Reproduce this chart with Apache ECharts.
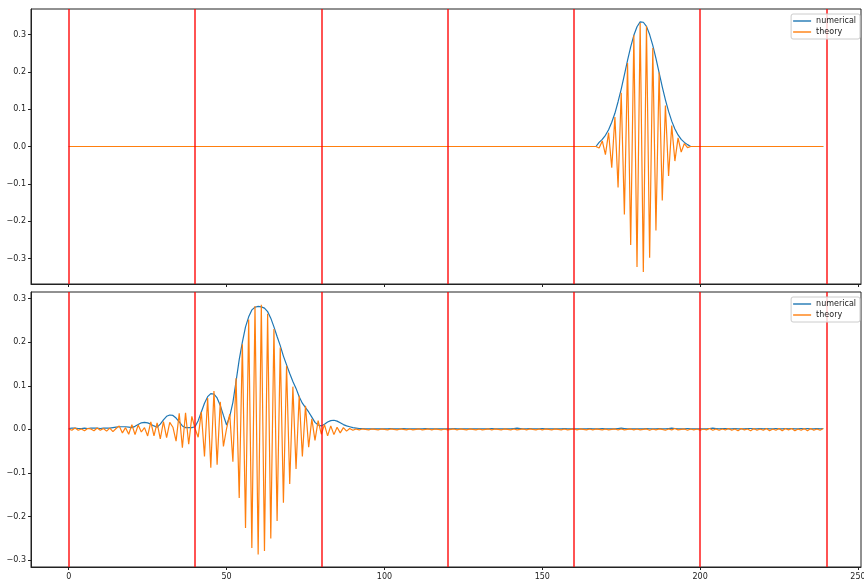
<!DOCTYPE html>
<html>
<head>
<meta charset="utf-8">
<script src="https://cdn.jsdelivr.net/npm/echarts@6/dist/echarts.min.js"></script>
<style>html,body{margin:0;padding:0;background:#fff}#c{width:864px;height:583px}</style>
</head>
<body>
<div id="c"></div>
<script>
// sample positions 0..239
const xValues = [];
for (let i = 0; i < 240; i++) xValues.push(i);

const xTicks = [0, 50, 100, 150, 200, 250];
const yTicks = [-0.3, -0.2, -0.1, 0.0, 0.1, 0.2, 0.3];
const redLines = [0, 40, 80, 120, 160, 200, 240];
const seriesNames = ['numerical', 'theory'];

const topNumerical = [
0,0,0,0,0,0,0,0,0,0,0,0,0,0,0,0,0,0,0,0,
0,0,0,0,0,0,0,0,0,0,0,0,0,0,0,0,0,0,0,0,
0,0,0,0,0,0,0,0,0,0,0,0,0,0,0,0,0,0,0,0,
0,0,0,0,0,0,0,0,0,0,0,0,0,0,0,0,0,0,0,0,
0,0,0,0,0,0,0,0,0,0,0,0,0,0,0,0,0,0,0,0,
0,0,0,0,0,0,0,0,0,0,0,0,0,0,0,0,0,0,0,0,
0,0,0,0,0,0,0,0,0,0,0,0,0,0,0,0,0,0,0,0,
0,0,0,0,0,0,0,0,0,0,0,0,0,0,0,0,0,0,0,0,
0,0,0,0,0,0,0,0,0.011,0.019,0.030,0.045,0.065,0.089,0.120,0.154,0.192,0.231,0.267,0.298,
0.321,0.334,0.333,0.322,0.300,0.271,0.236,0.198,0.160,0.125,0.094,0.068,0.047,0.031,0.019,0.011,0.005,0,0,0,
0,0,0,0,0,0,0,0,0,0,0,0,0,0,0,0,0,0,0,0,
0,0,0,0,0,0,0,0,0,0,0,0,0,0,0,0,0,0,0,0
];

const topTheory = [
0,0,0,0,0,0,0,0,0,0,0,0,0,0,0,0,0,0,0,0,
0,0,0,0,0,0,0,0,0,0,0,0,0,0,0,0,0,0,0,0,
0,0,0,0,0,0,0,0,0,0,0,0,0,0,0,0,0,0,0,0,
0,0,0,0,0,0,0,0,0,0,0,0,0,0,0,0,0,0,0,0,
0,0,0,0,0,0,0,0,0,0,0,0,0,0,0,0,0,0,0,0,
0,0,0,0,0,0,0,0,0,0,0,0,0,0,0,0,0,0,0,0,
0,0,0,0,0,0,0,0,0,0,0,0,0,0,0,0,0,0,0,0,
0,0,0,0,0,0,0,0,0,0,0,0,0,0,0,0,0,0,0,0,
0,0,0,0,0,0,0,0,-0.004,0.015,-0.022,0.037,-0.057,0.079,-0.110,0.144,-0.182,0.224,-0.264,0.298,
-0.323,0.331,-0.336,0.322,-0.298,0.264,-0.225,0.198,-0.145,0.110,-0.079,0.056,-0.039,0.023,-0.015,0.008,-0.003,0,0,0,
0,0,0,0,0,0,0,0,0,0,0,0,0,0,0,0,0,0,0,0,
0,0,0,0,0,0,0,0,0,0,0,0,0,0,0,0,0,0,0,0
];

const bottomNumerical = [
0.002,0.003,0.003,0.002,0.002,0.003,0.002,0.003,0.003,0.003,0.002,0.003,0.003,0.003,0.004,0.005,0.006,0.006,0.006,0.005,
0.004,0.007,0.011,0.015,0.016,0.015,0.012,0.008,0.005,0.012,0.022,0.030,0.033,0.032,0.026,0.017,0.008,0.004,0.004,0.004,
0.006,0.020,0.040,0.060,0.075,0.082,0.081,0.072,0.055,0.032,0.010,0.030,0.062,0.110,0.160,0.200,0.235,0.258,0.274,0.280,
0.282,0.281,0.278,0.270,0.255,0.235,0.213,0.192,0.168,0.148,0.128,0.110,0.094,0.075,0.060,0.050,0.040,0.028,0.016,0.010,
0.008,0.012,0.017,0.020,0.021,0.019,0.015,0.011,0.008,0.006,0.004,0.003,0.002,0.002,0.001,0.001,0.001,0.001,0.001,0.001,
0.001,0.001,0.002,0.001,0.001,0.001,0.002,0.001,0.001,0.001,0.001,0.001,0.001,0.002,0.001,0.001,0.001,0.001,0.001,0.001,
0.001,0.001,0.002,0.001,0.001,0.001,0.001,0.001,0.001,0.001,0.001,0.001,0.001,0.001,0.002,0.001,0.001,0.001,0.001,0.001,
0.001,0.002,0.003,0.002,0.001,0.001,0.002,0.001,0.001,0.001,0.002,0.001,0.001,0.001,0.001,0.001,0.001,0.002,0.001,0.001,
0.001,0.001,0.001,0.001,0.001,0.002,0.001,0.001,0.001,0.002,0.001,0.001,0.001,0.001,0.002,0.003,0.002,0.001,0.001,0.001,
0.001,0.001,0.001,0.002,0.001,0.001,0.001,0.002,0.001,0.001,0.002,0.003,0.002,0.001,0.001,0.001,0.002,0.001,0.001,0.001,
0.001,0.001,0.001,0.002,0.003,0.002,0.001,0.002,0.002,0.001,0.001,0.002,0.001,0.001,0.001,0.002,0.002,0.001,0.001,0.002,
0.001,0.002,0.001,0.001,0.002,0.001,0.001,0.002,0.001,0.002,0.001,0.001,0.002,0.001,0.002,0.001,0.001,0.002,0.001,0.002
];

const bottomTheory = [
0.001,-0.002,0.003,-0.002,0.001,-0.003,0.002,0.001,-0.003,0.003,-0.002,0.002,-0.004,0.003,-0.005,0.002,0.008,-0.008,0.004,-0.011,
0.011,-0.012,0.010,-0.006,0.004,-0.015,0.017,-0.015,0.015,-0.022,0.018,-0.019,0.016,0.005,-0.027,0.037,-0.042,0.038,-0.034,0.030,
0.002,-0.018,0.040,-0.062,0.072,-0.088,0.088,-0.081,0.063,-0.039,0.002,0.035,-0.074,0.117,-0.157,0.195,-0.226,0.252,-0.272,0.283,
-0.287,0.286,-0.279,0.265,-0.250,0.230,-0.210,0.188,-0.168,0.146,-0.125,0.098,-0.091,0.077,-0.062,0.054,-0.041,0.024,-0.025,0.020,
-0.011,0.011,-0.015,0.008,-0.012,0.005,-0.008,0.004,-0.004,0.002,-0.002,0.001,-0.001,0.001,0.000,-0.001,0.001,0.000,-0.001,0.001,
0.000,-0.001,0.001,0.000,-0.001,0.001,0.000,-0.001,0.001,-0.001,0.000,0.001,-0.001,0.000,0.001,-0.001,0.001,0.000,-0.001,0.001,
-0.001,0.000,0.001,-0.001,0.001,0.000,-0.001,0.001,0.000,-0.001,0.001,-0.001,0.000,0.001,-0.001,0.001,0.000,-0.001,0.001,0.000,
-0.001,0.001,-0.001,0.000,0.001,-0.001,0.001,0.000,-0.001,0.001,-0.001,0.001,0.000,-0.001,0.001,0.000,-0.001,0.001,-0.001,0.000,
0.001,-0.001,0.001,0.000,-0.001,0.001,-0.001,0.001,0.000,-0.001,0.001,-0.001,0.000,0.001,-0.001,0.001,-0.001,0.000,0.001,-0.001,
0.001,-0.001,0.000,0.001,-0.002,0.001,-0.001,0.001,0.000,-0.002,0.001,-0.001,0.002,-0.001,0.000,0.001,-0.002,0.001,-0.001,0.001,
-0.002,0.001,-0.001,0.002,-0.002,0.001,-0.002,0.001,-0.001,0.002,-0.002,0.001,-0.003,0.002,-0.001,0.001,-0.003,0.002,-0.002,0.001,
-0.002,0.002,-0.003,0.001,-0.002,0.002,-0.003,0.002,-0.001,0.002,-0.003,0.001,-0.002,0.002,-0.003,0.002,-0.002,0.001,-0.002,0.002
];

const C_NUM = '#1f77b4', C_THEO = '#ff7f0e';
const FONT = 'DejaVu Sans';

function pairs(ys) { return xValues.map((x, i) => [x, ys[i]]); }
function yFmt(v) {
  const s = Math.abs(v).toFixed(1);
  return (v < -1e-9 ? '\u2212' : '') + s;
}

const grids = [
  { left: 31, right: 3, top: 9, height: 275 },
  { left: 31, right: 3, top: 292, height: 275 }
];
const yRanges = [[-0.3685, 0.3685], [-0.3155, 0.315]];

const option = {
  animation: false,
  backgroundColor: '#fff',
  grid: grids.map(g => Object.assign({
    show: true, borderColor: '#222', borderWidth: 1, backgroundColor: 'transparent',
    containLabel: false, outerBoundsMode: 'none'
  }, g)),
  xAxis: [0, 1].map(i => ({
    type: 'value', gridIndex: i, min: -11.95, max: 250.95,
    splitLine: { show: false },
    axisLine: { show: true, onZero: false, lineStyle: { color: '#222', width: 1 } },
    axisTick: { show: true, length: 3, customValues: xTicks, lineStyle: { color: '#222' } },
    axisLabel: { show: i === 1, customValues: xTicks, fontSize: 8, color: '#222', fontFamily: FONT, margin: 6, hideOverlap: false }
  })),
  yAxis: [0, 1].map(i => ({
    type: 'value', gridIndex: i, min: yRanges[i][0], max: yRanges[i][1],
    splitLine: { show: false },
    axisLine: { show: true, onZero: false, lineStyle: { color: '#222', width: 1 } },
    axisTick: { show: true, length: 3, customValues: yTicks, lineStyle: { color: '#222' } },
    axisLabel: { customValues: yTicks, formatter: yFmt, fontSize: 8, color: '#222', fontFamily: FONT, margin: 5 }
  })),
  legend: [14, 297].map(t => ({
    data: seriesNames, orient: 'vertical', right: 4, top: t,
    itemWidth: 18, itemHeight: 8, itemGap: 3,
    padding: [3, 4, 3, 2],
    backgroundColor: 'rgba(255,255,255,0.8)', borderColor: '#cccccc', borderWidth: 1, borderRadius: 2,
    textStyle: { fontSize: 8, color: '#222', fontFamily: FONT },
    icon: 'path://M0,0 L18,0 L18,1.4 L0,1.4 Z',
    z: 10
  })),
  series: [
    { name: 'numerical', type: 'line', xAxisIndex: 0, yAxisIndex: 0, data: pairs(topNumerical), symbol: 'none', lineStyle: { color: C_NUM, width: 1.2 }, itemStyle: { color: C_NUM }, z: 2 },
    { name: 'theory', type: 'line', xAxisIndex: 0, yAxisIndex: 0, data: pairs(topTheory), symbol: 'none', lineStyle: { color: C_THEO, width: 1.2 }, itemStyle: { color: C_THEO }, z: 3 },
    { name: 'numerical', type: 'line', xAxisIndex: 1, yAxisIndex: 1, data: pairs(bottomNumerical), symbol: 'none', lineStyle: { color: C_NUM, width: 1.2 }, itemStyle: { color: C_NUM }, z: 2 },
    { name: 'theory', type: 'line', xAxisIndex: 1, yAxisIndex: 1, data: pairs(bottomTheory), symbol: 'none', lineStyle: { color: C_THEO, width: 1.2 }, itemStyle: { color: C_THEO }, z: 3 },
    ...[0, 1].map(i => ({
      name: 'vlines' + i, type: 'line', xAxisIndex: i, yAxisIndex: i, data: [], z: 4, silent: true,
      markLine: {
        silent: true, symbol: ['none', 'none'], label: { show: false },
        lineStyle: { color: '#ff0000', width: 1.5, type: 'solid', opacity: 0.9 },
        emphasis: { disabled: true },
        data: redLines.map(v => ({ xAxis: v }))
      }
    }))
  ]
};

const chart = echarts.init(document.getElementById('c'), null, { renderer: 'canvas' });
chart.setOption(option);
</script>
</body>
</html>
